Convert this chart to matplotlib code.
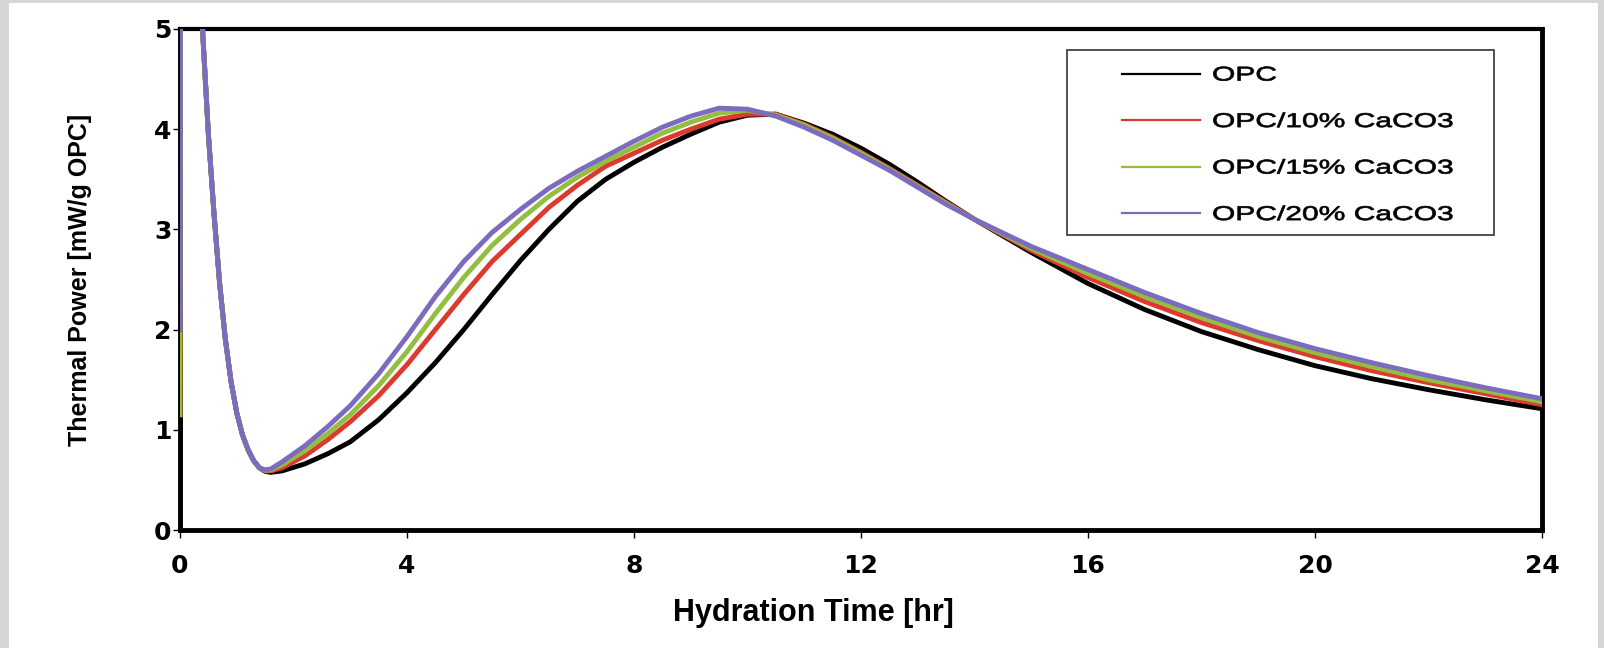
import matplotlib
matplotlib.use("Agg")
import matplotlib.pyplot as plt
from matplotlib.patches import Rectangle
from matplotlib.patheffects import AbstractPathEffect
from matplotlib.transforms import Affine2D

# hydration time [hr]
hours = [0, 0.03, 0.4, 0.5, 0.6, 0.7, 0.8, 0.9, 1.0, 1.1, 1.2, 1.3, 1.4, 1.5, 1.6,
         1.8, 2.2, 2.6, 3.0, 3.5, 4.0, 4.5, 5.0, 5.5, 6.0, 6.5, 7.0, 7.5, 8.0, 8.5,
         9.0, 9.5, 10.0, 10.5, 11.0, 11.5, 12.0, 12.5, 13.0, 13.5, 14.0, 15.0, 16.0,
         17.0, 18.0, 19.0, 20.0, 21.0, 22.0, 23.0, 24.0]

# thermal power [mW/g OPC]
opc = [0.0, 20.0, 4.96, 3.95, 3.15, 2.45, 1.90, 1.48, 1.17, 0.95, 0.80, 0.69, 0.62, 0.585, 0.575,
       0.59, 0.66, 0.76, 0.88, 1.10, 1.37, 1.67, 2.00, 2.35, 2.69, 3.00, 3.28, 3.50, 3.67, 3.82,
       3.95, 4.07, 4.14, 4.15, 4.06, 3.95, 3.81, 3.65, 3.47, 3.28, 3.10, 2.77, 2.46,
       2.20, 1.98, 1.80, 1.64, 1.51, 1.40, 1.30, 1.21]
opc10 = [1.15, 20.0, 4.96, 3.95, 3.15, 2.45, 1.90, 1.48, 1.17, 0.95, 0.80, 0.69, 0.62, 0.59, 0.59,
         0.62, 0.74, 0.90, 1.08, 1.34, 1.65, 2.00, 2.35, 2.68, 2.95, 3.22, 3.44, 3.63, 3.76, 3.89,
         4.00, 4.10, 4.15, 4.15, 4.05, 3.92, 3.77, 3.61, 3.44, 3.27, 3.10, 2.79, 2.52,
         2.28, 2.07, 1.89, 1.73, 1.59, 1.47, 1.36, 1.25]
opc15 = [1.15, 20.0, 4.96, 3.95, 3.15, 2.45, 1.90, 1.48, 1.17, 0.95, 0.80, 0.69, 0.62, 0.595, 0.60,
         0.65, 0.79, 0.96, 1.15, 1.44, 1.78, 2.16, 2.52, 2.84, 3.10, 3.33, 3.52, 3.68, 3.82, 3.96,
         4.07, 4.16, 4.19, 4.14, 4.04, 3.91, 3.76, 3.60, 3.43, 3.26, 3.10, 2.81, 2.56,
         2.33, 2.12, 1.93, 1.77, 1.63, 1.50, 1.39, 1.28]
opc20 = [2.0, 20.0, 4.96, 3.95, 3.15, 2.45, 1.90, 1.48, 1.17, 0.95, 0.80, 0.69, 0.62, 0.60, 0.61,
         0.68, 0.84, 1.03, 1.24, 1.56, 1.93, 2.33, 2.68, 2.97, 3.20, 3.41, 3.58, 3.73, 3.88, 4.02,
         4.13, 4.21, 4.20, 4.13, 4.02, 3.89, 3.74, 3.59, 3.42, 3.25, 3.10, 2.83, 2.60,
         2.37, 2.16, 1.97, 1.81, 1.67, 1.54, 1.42, 1.31]

labels = ["OPC", "OPC/10% CaCO3", "OPC/15% CaCO3", "OPC/20% CaCO3"]
colors = ["#000000", "#dc3a2e", "#93be3f", "#7b6cbf"]
xticks = [0, 4, 8, 12, 16, 20, 24]
yticks = [0, 1, 2, 3, 4, 5]


class HStretch(AbstractPathEffect):
    # widen (and slightly thicken) text, like the stretched fonts of the original chart
    def __init__(self, sx, stroke=0.0):
        super().__init__()
        self.sx = sx
        self.stroke = stroke

    def draw_path(self, renderer, gc, tpath, affine, rgbFace=None):
        v = affine.transform(tpath.vertices)
        x0 = v[:, 0].min() if len(v) else 0
        st = Affine2D().translate(-x0, 0).scale(self.sx, 1).translate(x0, 0)
        gc0 = renderer.new_gc()
        gc0.copy_properties(gc)
        if self.stroke > 0 and rgbFace is not None:
            gc0.set_linewidth(self.stroke)
            gc0.set_foreground(rgbFace)
        renderer.draw_path(gc0, tpath, affine + st, rgbFace)
        gc0.restore()


fig = plt.figure(figsize=(16.04, 6.48), dpi=100, facecolor="#d6d6d6")
fig.patches.append(Rectangle((9 / 1604, 0), 1589 / 1604, 645 / 648,
                             transform=fig.transFigure, facecolor="white",
                             edgecolor="none", zorder=-1))

ax = fig.add_axes([180 / 1604, 118 / 648, 1362 / 1604, 501 / 648])
ax.set_facecolor("white")

series = [opc, opc10, opc15, opc20]
for vals, lab, col in zip(series, labels, colors):
    ax.plot(hours, vals, color=col, lw=3.5, label=lab, zorder=3,
            solid_joinstyle="round")

ax.set_xlim(0, 24)
ax.set_ylim(0, 5)
ax.set_xticks(xticks)
ax.set_yticks(yticks)

for side in ["left", "bottom", "right"]:
    ax.spines[side].set_linewidth(3.5)
ax.spines["top"].set_linewidth(3)

ax.tick_params(axis="x", direction="out", length=6, width=1, pad=11)
ax.tick_params(axis="y", direction="out", length=5, width=1, pad=1)
for t in ax.get_xticklabels() + ax.get_yticklabels():
    t.set_fontfamily("DejaVu Sans")
    t.set_fontweight("bold")
    t.set_fontsize(18)

ax.set_xlabel("Hydration Time [hr]", fontfamily="Liberation Sans",
              fontweight="bold", fontsize=22, va="center")
ax.xaxis.set_label_coords((813 - 180) / 1362, -0.166)
ax.set_ylabel("Thermal Power [mW/g OPC]", fontfamily="Liberation Sans",
              fontweight="bold", fontsize=18, va="center")
ax.yaxis.set_label_coords((80 - 180) / 1362, 0.5)

# legend frame + entries
ax.add_patch(Rectangle((0.651, 0.589), 0.314, 0.369, transform=ax.transAxes,
                       facecolor="white", edgecolor="#333333", lw=1.2, zorder=4))
leg = ax.legend(loc="upper left", bbox_to_anchor=(0.6916, 0.927), frameon=False,
                borderpad=0, borderaxespad=0, handlelength=3.9, handletextpad=0.6,
                labelspacing=1.375, prop={"family": "Liberation Sans", "size": 14.4})
leg.set_zorder(5)
for ln in leg.get_lines():
    ln.set_linewidth(1.6)
for t in leg.get_texts():
    t.set_path_effects([HStretch(1.5, stroke=0.5)])

fig.savefig("out.png", dpi=100, facecolor=fig.get_facecolor())
